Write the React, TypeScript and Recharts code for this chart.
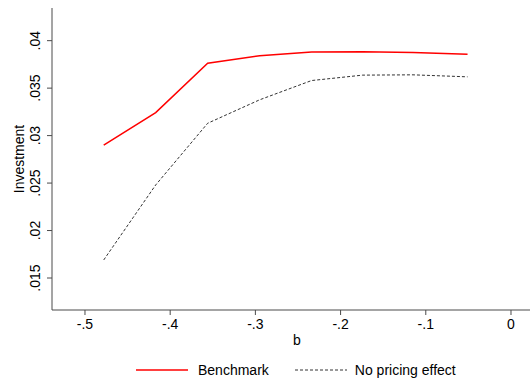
import React from 'react';
import { LineChart, Line, XAxis, YAxis, Legend } from 'recharts';

const bValues = [-0.478, -0.417, -0.356, -0.295, -0.234, -0.174, -0.115, -0.051];
const benchmark = [0.0290, 0.03242, 0.03762, 0.03842, 0.03881, 0.03884, 0.03874, 0.03857];
const noPricing = [0.0169, 0.0248, 0.0313, 0.03377, 0.0358, 0.03637, 0.0364, 0.03619];
const xTicks = [-0.5, -0.4, -0.3, -0.2, -0.1, 0];
const yTicks = [0.015, 0.02, 0.025, 0.03, 0.035, 0.04];

const data = bValues.map((b, i) => ({ b, benchmark: benchmark[i], noPricing: noPricing[i] }));

const FONT = '"Liberation Sans", Arial, sans-serif';
const AXIS = '#4a4a4a';

const fmt = (v: number) => {
  if (v === 0) return '0';
  const s = String(Number(v.toFixed(4)));
  return s.replace(/^(-?)0\./, '$1.');
};

const YTick = (props: any) => {
  const { y, payload } = props;
  return (
    <g transform={`translate(40, ${y})`}>
      <text transform="rotate(-90)" textAnchor="middle" fontSize={14} fontFamily={FONT} fill="#000">
        {fmt(payload.value)}
      </text>
    </g>
  );
};

const LegendContent = (props: any) => {
  const items = props.payload || [];
  return (
    <div style={{ display: 'flex', alignItems: 'center', paddingLeft: 136, fontFamily: FONT, fontSize: 14, color: '#000', height: 16 }}>
      {items.map((it: any, i: number) => (
        <div key={i} style={{ display: 'flex', alignItems: 'center', marginRight: i === 0 ? 26 : 0 }}>
          <svg width={52} height={6} style={{ marginRight: i === 0 ? 10 : 8 }}>
            <line x1={0} y1={3} x2={52} y2={3} stroke={it.color} strokeWidth={i === 0 ? 1.5 : 1} strokeDasharray={i === 0 ? undefined : '3 2'} />
          </svg>
          <span>{it.value}</span>
        </div>
      ))}
    </div>
  );
};

export default function App() {
  return (
    <div style={{ position: 'absolute', left: 0, top: 0, background: '#fff' }}>
      <LineChart width={531} height={379} data={data} margin={{ top: 8, right: 1, bottom: 0, left: 0 }}>
        <XAxis
          dataKey="b"
          type="number"
          domain={[-0.5387, 0.0223]}
          ticks={xTicks}
          allowDataOverflow
          tickFormatter={fmt}
          height={69}
          tickSize={5}
          tickMargin={4}
          stroke={AXIS}
          tick={{ fill: '#000', fontSize: 14, fontFamily: FONT }}
          label={{
            content: () => (
              <text x={297} y={345} textAnchor="middle" fontSize={14} fontFamily={FONT} fill="#000">b</text>
            ),
          }}
        />
        <YAxis
          type="number"
          domain={[0.01163, 0.04344]}
          ticks={yTicks}
          allowDataOverflow
          width={52}
          tickSize={5}
          stroke={AXIS}
          tick={<YTick />}
          label={{
            content: (p: any) => {
              const vb = p.viewBox || {};
              const cy = (vb.y ?? 8) + (vb.height ?? 302) / 2;
              return (
                <text transform={`translate(24, ${cy}) rotate(-90)`} textAnchor="middle" fontSize={14} fontFamily={FONT} fill="#000">
                  Investment
                </text>
              );
            },
          }}
        />
        <Line dataKey="benchmark" name="Benchmark" stroke="#ff0000" strokeWidth={1.5} dot={false} isAnimationActive={false} />
        <Line dataKey="noPricing" name="No pricing effect" stroke="#333333" strokeWidth={1} strokeDasharray="3 2" dot={false} isAnimationActive={false} />
        <Legend verticalAlign="middle" layout="horizontal" content={<LegendContent />} wrapperStyle={{ top: 362, left: 0, width: 531, height: 16 }} />
      </LineChart>
    </div>
  );
}
